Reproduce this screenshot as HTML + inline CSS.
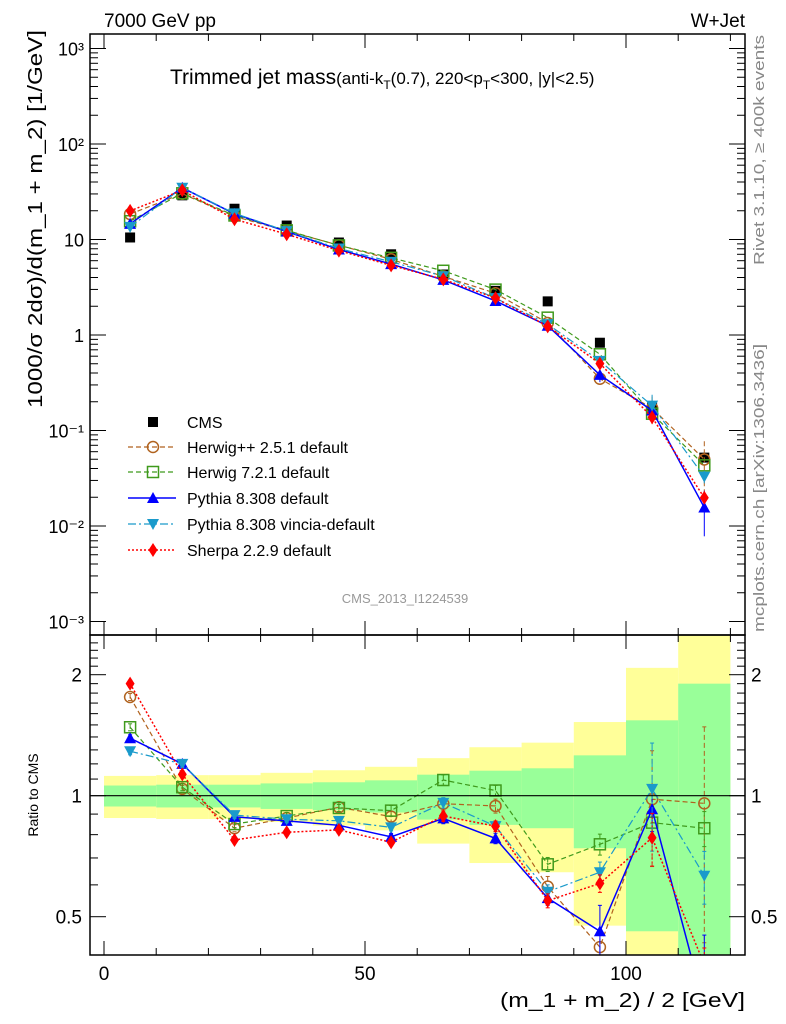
<!DOCTYPE html>
<html><head><meta charset="utf-8"><style>
html,body{margin:0;padding:0;background:#fff;width:786px;height:1024px;overflow:hidden;}
svg{display:block;font-family:"Liberation Sans",sans-serif;}
</style></head><body>
<svg id="chart" width="786" height="1024" viewBox="0 0 786 1024" xmlns="http://www.w3.org/2000/svg">
<defs>
<clipPath id="cm"><rect x="90" y="34" width="655" height="601"/></clipPath>
<clipPath id="cr"><rect x="90" y="635" width="655" height="320"/></clipPath>
</defs>
<g id="bands" clip-path="url(#cr)"></g>
<g id="ticks"></g>
<g id="series"></g>
<rect x="90" y="34" width="655" height="601" fill="none" stroke="#000" stroke-width="1.5"/>
<rect x="90" y="635" width="655" height="320" fill="none" stroke="#000" stroke-width="1.5"/>
<line x1="90" x2="745" y1="795.7" y2="795.7" stroke="#000" stroke-width="1.2"/>
<text x="104" y="27" font-size="19">7000 GeV pp</text>
<text x="745" y="27" font-size="19" text-anchor="end">W+Jet</text>
<text x="170" y="84" font-size="21">Trimmed jet mass<tspan font-size="17">(anti-k</tspan><tspan font-size="12" dy="5">T</tspan><tspan font-size="17" dy="-5">(0.7), 220&lt;p</tspan><tspan font-size="12" dy="5">T</tspan><tspan font-size="17" dy="-5">&lt;300, |y|&lt;2.5)</tspan></text>
<text transform="translate(42,219) rotate(-90)" font-size="20" text-anchor="middle" textLength="378" lengthAdjust="spacingAndGlyphs">1000/σ 2dσ)/d(m_1 + m_2) [1/GeV]</text>
<text transform="translate(38,795) rotate(-90)" font-size="14" text-anchor="middle">Ratio to CMS</text>
<text x="745" y="1007" font-size="20" text-anchor="end" textLength="245" lengthAdjust="spacingAndGlyphs">(m_1 + m_2) / 2 [GeV]</text>
<text transform="translate(764,35) rotate(-90)" font-size="15" fill="#888" text-anchor="end" textLength="230" lengthAdjust="spacingAndGlyphs">Rivet 3.1.10, ≥ 400k events</text>
<text transform="translate(764,632) rotate(-90)" font-size="15" fill="#888" textLength="288" lengthAdjust="spacingAndGlyphs">mcplots.cern.ch [arXiv:1306.3436]</text>
<text x="405" y="603" font-size="13" fill="#999" text-anchor="middle">CMS_2013_I1224539</text>
<g id="legend"></g>
<script>
const centers=[5,15,25,35,45,55,65,75,85,95,105,115];
const cmsVals=[10.5,29,21,14,9.3,7.0,4.3,2.9,2.25,0.83,0.175,0.052];
const bandGreen=[0.06,0.065,0.065,0.073,0.08,0.092,0.128,0.154,0.17,0.26,0.54,0.9];
const bandYellow=[0.12,0.125,0.125,0.14,0.157,0.18,0.24,0.32,0.355,0.525,1.08,1.8];
const ratioHerwigPP=[1.76,1.04,0.83,0.88,0.936,0.887,0.955,0.943,0.594,0.42,0.98,0.957];
const ratioHerwig7=[1.48,1.05,0.85,0.89,0.932,0.918,1.094,1.03,0.675,0.757,0.857,0.83];
const ratioPythia=[1.39,1.2,0.886,0.866,0.844,0.79,0.878,0.783,0.556,0.46,0.925,0.3];
const ratioVincia=[1.29,1.2,0.895,0.874,0.866,0.834,0.96,0.84,0.577,0.645,1.04,0.632];
const ratioSherpa=[1.9,1.13,0.776,0.811,0.822,0.766,0.89,0.84,0.548,0.605,0.786,0.38];
const errHerwigPP=[0.02,0.02,0.02,0.03,0.03,0.03,0.03,0.04,0.06,0.1,0.32,0.55];
const errHerwig7=[0.02,0.02,0.02,0.02,0.02,0.03,0.03,0.03,0.04,0.06,0.1,0.1];
const errPythia=[0.02,0.02,0.02,0.02,0.02,0.02,0.03,0.03,0.04,0.16,0.12,0.5];
const errVincia=[0.02,0.02,0.02,0.02,0.02,0.02,0.03,0.03,0.04,0.06,0.3,0.15];
const errSherpa=[0.02,0.02,0.02,0.02,0.02,0.02,0.03,0.03,0.04,0.05,0.15,0.1];
const mainTicks=[0.001,0.01,0.1,1,10,100,1000];
const mainTickLabels=["10\u207B\u00B3","10\u207B\u00B2","10\u207B\u00B9","1","10","10\u00B2","10\u00B3"];
const xTicks=[0,50,100];
const ratioTicks=[0.5,1,2];
const ratioTickLabels=["0.5","1","2"];

const NS="http://www.w3.org/2000/svg";
const xs=v=>104+5.22*v;
const ym=v=>335-95.5*Math.log10(v);
const yr=r=>795.7-121*Math.log2(Math.max(r,0.05));
function mk(tag,attrs,parent){const e=document.createElementNS(NS,tag);for(const k in attrs)e.setAttribute(k,attrs[k]);parent.appendChild(e);return e;}
const bands=document.getElementById('bands'),ticks=document.getElementById('ticks'),series=document.getElementById('series'),legend=document.getElementById('legend');

centers.forEach((c,i)=>{
  const x0=xs(c-5),x1=xs(c+5);
  const yt=yr(1+bandYellow[i]),yb=1-bandYellow[i]>0.05?yr(1-bandYellow[i]):960;
  const r1=mk('rect',{x:x0,y:yt,width:x1-x0,height:yb-yt,fill:'#ffff99'},bands);
  
  
  const gt=yr(1+bandGreen[i]),gb=1-bandGreen[i]>0.05?yr(1-bandGreen[i]):960;
  const r2=mk('rect',{x:x0,y:gt,width:x1-x0,height:gb-gt,fill:'#99ff99'},bands);
  
  
});

function tk(x1,y1,x2,y2){mk('line',{x1,y1,x2,y2,stroke:'#000','stroke-width':1},ticks);}
for(let v=0;v<=120;v+=10){const x=xs(v),L=v%50==0?14:7;
  tk(x,635,x,635-L);tk(x,34,x,34+L);tk(x,955,x,955-L);tk(x,635,x,635+L);}
xTicks.forEach(v=>{const t=mk('text',{x:xs(v),y:980,'font-size':19,'text-anchor':'middle'},ticks);t.textContent=v;
  
  });
for(let d=-3;d<3;d++){for(let m=1;m<10;m++){const v=m*Math.pow(10,d);const y=ym(v);if(y<34)continue;const L=m==1?16:8;tk(90,y,90+L,y);tk(745,y,745-L,y);}}
tk(90,ym(1000),106,ym(1000));tk(745,ym(1000),729,ym(1000));
mainTicks.forEach((v,i)=>{const t=mk('text',{x:84,y:ym(v)+7,'font-size':18,'text-anchor':'end'},ticks);t.textContent=mainTickLabels[i];
  
  });
for(let r=0.4;r<2.55;r+=0.1){const rr=Math.round(r*10)/10;const y=yr(rr);if(y<636||y>954)continue;const L=(rr==0.5||rr==1||rr==2)?16:8;tk(90,y,90+L,y);tk(745,y,745-L,y);}
ratioTicks.forEach((v,i)=>{let t=mk('text',{x:82,y:yr(v)+7,'font-size':19,'text-anchor':'end'},ticks);t.textContent=ratioTickLabels[i];
  
  
  t=mk('text',{x:751,y:yr(v)+7,'font-size':19},ticks);t.textContent=ratioTickLabels[i];
  
  });

function marker(g,type,x,y,col){
  if(type=='sq')return mk('rect',{x:x-5,y:y-5,width:10,height:10,fill:col},g);
  if(type=='osq')return mk('rect',{x:x-5.5,y:y-5.5,width:11,height:11,fill:'none',stroke:col,'stroke-width':1.5},g);
  if(type=='oc')return mk('circle',{cx:x,cy:y,r:5.5,fill:'none',stroke:col,'stroke-width':1.5},g);
  if(type=='up')return mk('path',{d:`M${x} ${y-6}L${x+6} ${y+5}L${x-6} ${y+5}Z`,fill:col},g);
  if(type=='dn')return mk('path',{d:`M${x} ${y+6}L${x+6} ${y-5}L${x-6} ${y-5}Z`,fill:col},g);
  if(type=='dm')return mk('path',{d:`M${x} ${y-7}L${x+4.5} ${y}L${x} ${y+7}L${x-4.5} ${y}Z`,fill:col},g);
}
const sets=[
 {n:'herwigpp',label:'Herwig++ 2.5.1 default',r:ratioHerwigPP,e:errHerwigPP,col:'#b0621e',m:'oc',dash:'5,3',w:1.2},
 {n:'herwig7',label:'Herwig 7.2.1 default',r:ratioHerwig7,e:errHerwig7,col:'#3f9a1c',m:'osq',dash:'5,3',w:1.2},
 {n:'pythia',label:'Pythia 8.308 default',r:ratioPythia,e:errPythia,col:'#0000ff',m:'up',dash:'',w:1.5},
 {n:'vincia',label:'Pythia 8.308 vincia-default',r:ratioVincia,e:errVincia,col:'#1a9acb',m:'dn',dash:'8,3,2,3',w:1.2},
 {n:'sherpa',label:'Sherpa 2.2.9 default',r:ratioSherpa,e:errSherpa,col:'#ff0000',m:'dm',dash:'2,2',w:1.5}
];
const gc=mk('g',{},series);


centers.forEach((c,i)=>{const p=marker(gc,'sq',xs(c),ym(cmsVals[i]),'#000');
  
  });
sets.forEach(s=>{
  const vals=s.r.map((r,i)=>r*cmsVals[i]);
  const gm=mk('g',{'clip-path':'url(#cm)'},series);
  
  
  const pm=mk('path',{d:centers.map((c,i)=>(i?'L':'M')+xs(c)+' '+ym(vals[i])).join(''),fill:'none',stroke:s.col,'stroke-width':s.w,'stroke-dasharray':s.dash},gm);
  
  
  centers.forEach((c,i)=>{const x=xs(c);
    if(s.e[i]>0.1){mk('line',{x1:x,x2:x,y1:ym(vals[i]*(1+s.e[i])),y2:ym(vals[i]*Math.max(1-s.e[i],0.05)),stroke:s.col,'stroke-width':1,'stroke-dasharray':s.dash},gm);}
    const p=marker(gm,s.m,x,ym(vals[i]),s.col);
    
    });
  const gr=mk('g',{'clip-path':'url(#cr)'},series);
  
  
  const pr=mk('path',{d:centers.map((c,i)=>(i?'L':'M')+xs(c)+' '+yr(s.r[i])).join(''),fill:'none',stroke:s.col,'stroke-width':s.w,'stroke-dasharray':s.dash},gr);
  
  
  centers.forEach((c,i)=>{const x=xs(c),r=s.r[i];
    const y1=yr(r*(1+s.e[i])),y2=yr(r*Math.max(1-s.e[i],0.05));
    mk('line',{x1:x,x2:x,y1,y2,stroke:s.col,'stroke-width':1,'stroke-dasharray':s.dash},gr);
    mk('line',{x1:x-2,x2:x+2,y1,y2:y1,stroke:s.col,'stroke-width':1},gr);
    mk('line',{x1:x-2,x2:x+2,y1:y2,y2:y2,stroke:s.col,'stroke-width':1},gr);
    const p=marker(gr,s.m,x,yr(r),s.col);
    
    });
});
const ly=[422,447,472,498,524,550];
const lc=mk('g',{},legend);


marker(lc,'sq',153,ly[0],'#000');
let t=mk('text',{x:187,y:ly[0]+6,'font-size':16},lc);t.textContent='CMS';
sets.forEach((s,k)=>{const g=mk('g',{},legend);
  
  
  const y=ly[k+1];
  mk('line',{x1:128,x2:176,y1:y,y2:y,stroke:s.col,'stroke-width':s.w,'stroke-dasharray':s.dash},g);
  marker(g,s.m,153,y,s.col);
  const tt=mk('text',{x:187,y:y+6,'font-size':16},g);tt.textContent=s.label;});
</script>
</svg>
</body></html>
